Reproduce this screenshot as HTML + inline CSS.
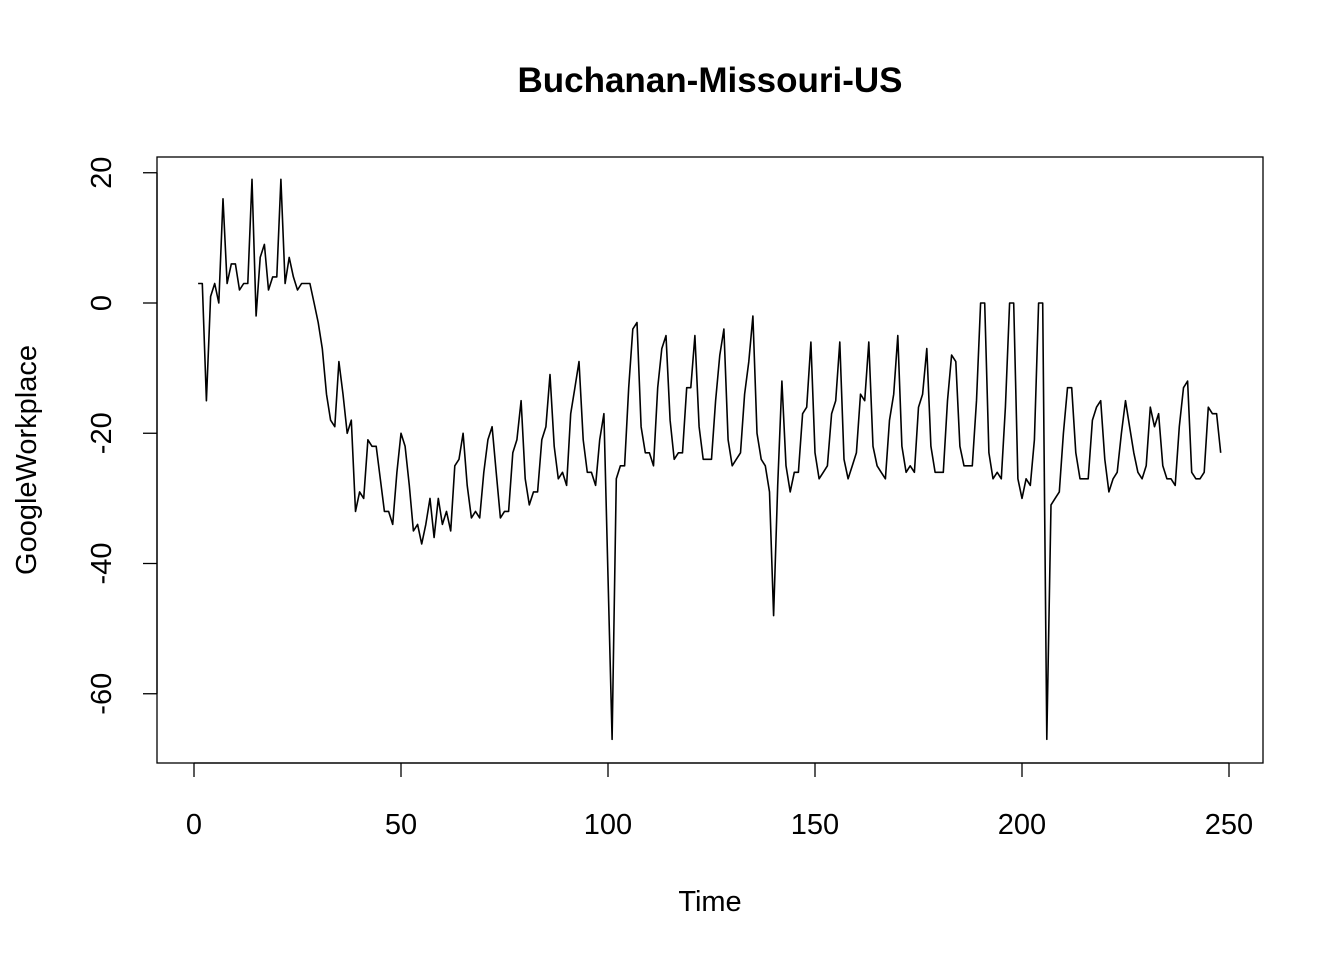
<!DOCTYPE html>
<html><head><meta charset="utf-8"><style>body{margin:0;background:#fff}svg text{font-family:"Liberation Sans",Arial,sans-serif}</style></head>
<body>
<svg id="chart" width="1344" height="960" xmlns="http://www.w3.org/2000/svg">
<rect width="1344" height="960" fill="#fff"/>
<text x="710" y="92" font-size="35" font-weight="bold" text-anchor="middle">Buchanan-Missouri-US</text>
<text x="710" y="911" font-size="29" text-anchor="middle">Time</text>
<text transform="translate(36,460) rotate(-90)" font-size="29" text-anchor="middle">GoogleWorkplace</text>
<rect x="157" y="157" width="1106" height="606" fill="none" stroke="#000" stroke-width="1.3"/>
<g id="axes"></g>
<polyline id="series" fill="none" stroke="#000" stroke-width="1.6" stroke-linejoin="round"/>
</svg>
<script>
const xTicks=[0,50,100,150,200,250];
const yTicks=[-60,-40,-20,0,20];
const values=[3,3,-15,1,3,0,16,3,6,6,2,3,3,19,-2,7,9,2,4,4,19,3,7,4,2,3,3,3,0,-3,-7,-14,-18,-19,-9,-14,-20,-18,-32,-29,-30,-21,-22,-22,-27,-32,-32,-34,-26,-20,-22,-28,-35,-34,-37,-34,-30,-36,-30,-34,-32,-35,-25,-24,-20,-28,-33,-32,-33,-26,-21,-19,-26,-33,-32,-32,-23,-21,-15,-27,-31,-29,-29,-21,-19,-11,-22,-27,-26,-28,-17,-13,-9,-21,-26,-26,-28,-21,-17,-42,-67,-27,-25,-25,-13,-4,-3,-19,-23,-23,-25,-13,-7,-5,-18,-24,-23,-23,-13,-13,-5,-19,-24,-24,-24,-15,-8,-4,-21,-25,-24,-23,-14,-9,-2,-20,-24,-25,-29,-48,-28,-12,-25,-29,-26,-26,-17,-16,-6,-23,-27,-26,-25,-17,-15,-6,-24,-27,-25,-23,-14,-15,-6,-22,-25,-26,-27,-18,-14,-5,-22,-26,-25,-26,-16,-14,-7,-22,-26,-26,-26,-15,-8,-9,-22,-25,-25,-25,-15,0,0,-23,-27,-26,-27,-16,0,0,-27,-30,-27,-28,-21,0,0,-67,-31,-30,-29,-20,-13,-13,-23,-27,-27,-27,-18,-16,-15,-24,-29,-27,-26,-20,-15,-19,-23,-26,-27,-25,-16,-19,-17,-25,-27,-27,-28,-19,-13,-12,-26,-27,-27,-26,-16,-17,-17,-23];
const xs=t=>194+(t)*(1229-194)/250;
const ys=v=>303-v*6.5125;
const ns="http://www.w3.org/2000/svg";
const ax=document.getElementById('axes');
function mk(tag,attrs){const e=document.createElementNS(ns,tag);for(const k in attrs)e.setAttribute(k,attrs[k]);ax.appendChild(e);return e;}
const xl=mk('line',{x1:xs(0),x2:xs(250),y1:763,y2:763,stroke:'#000','stroke-width':1.3});


xTicks.forEach(t=>{
 const l=mk('line',{x1:xs(t),x2:xs(t),y1:763,y2:777,stroke:'#000','stroke-width':1.3});
 
 
 const tx=mk('text',{x:xs(t),y:834,'font-size':29,'text-anchor':'middle'});tx.textContent=t;
 
 
});
const yl=mk('line',{x1:157,x2:157,y1:ys(20),y2:ys(-60),stroke:'#000','stroke-width':1.3});


yTicks.forEach(v=>{
 const l=mk('line',{x1:143,x2:157,y1:ys(v),y2:ys(v),stroke:'#000','stroke-width':1.3});
 
 
 const tx=mk('text',{transform:`translate(111,${ys(v)}) rotate(-90)`,'font-size':29,'text-anchor':'middle'});tx.textContent=v;
 
 
});
document.getElementById('series').setAttribute('points',values.map((v,i)=>xs(i+1).toFixed(1)+','+ys(v).toFixed(1)).join(' '));
</script>
</body></html>
